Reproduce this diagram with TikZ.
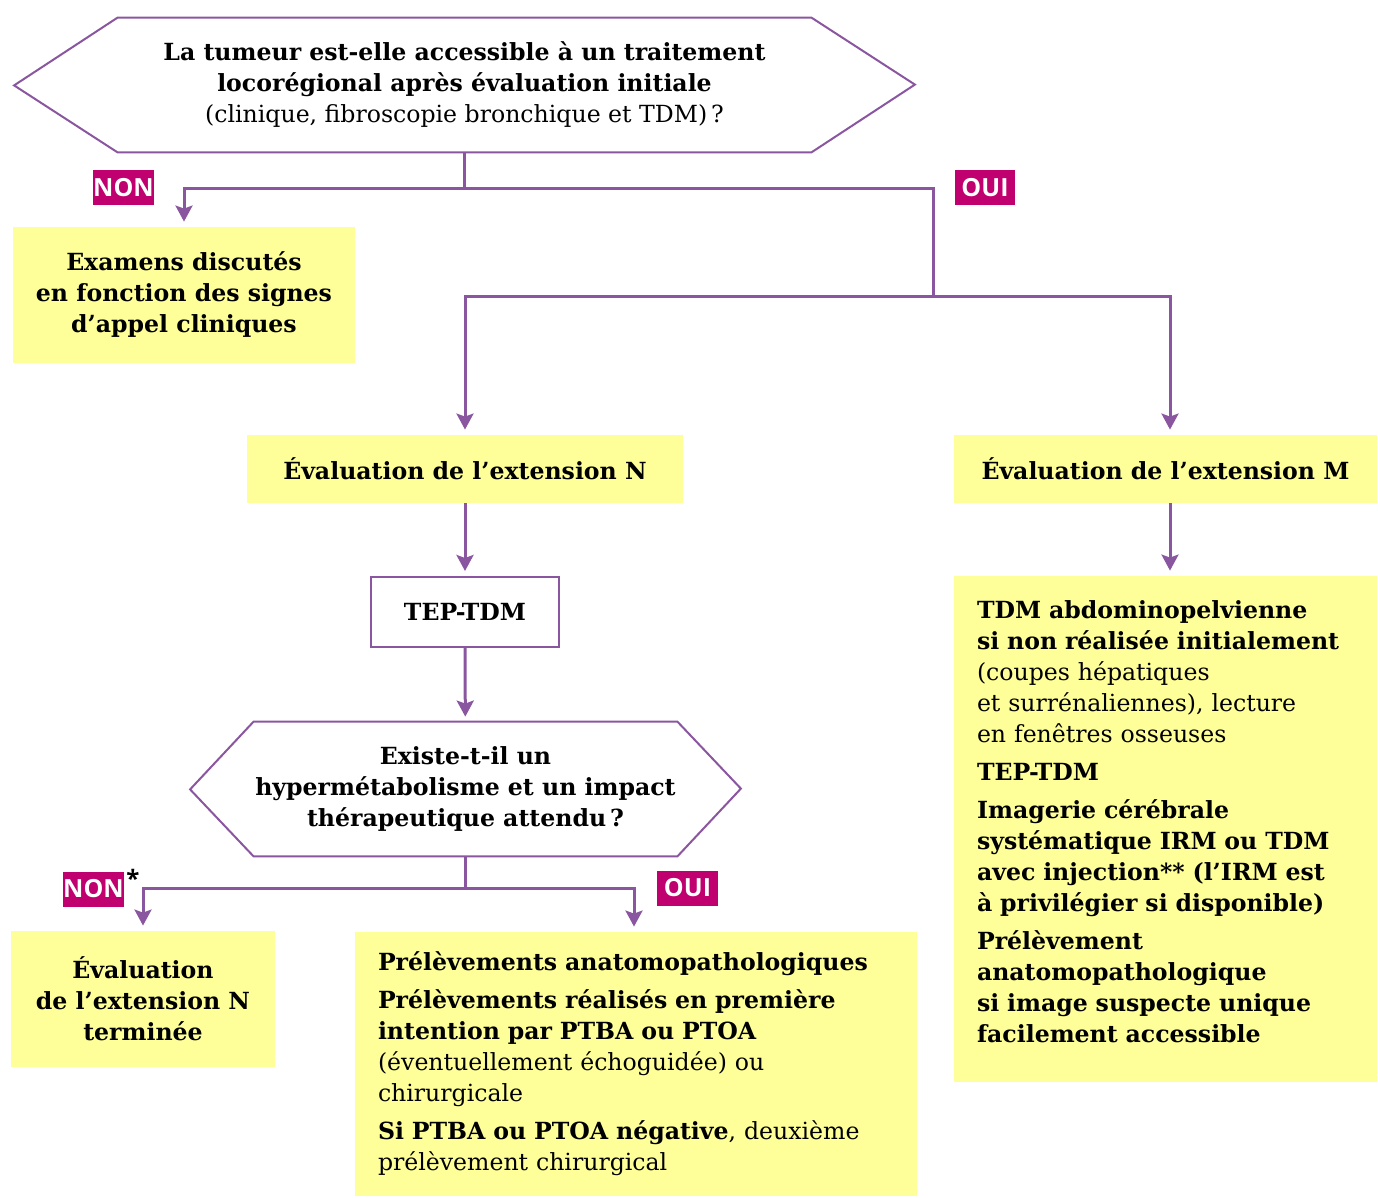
\documentclass[tikz,border=0pt]{standalone}
\usepackage{fontspec}
\setmainfont{DejaVu Serif}
\newfontfamily\labelfont{Open Sans}[BoldFont={* Bold}]
\usetikzlibrary{positioning,arrows.meta}

\definecolor{flowpurple}{HTML}{8A56A0}
\definecolor{noteyellow}{HTML}{FFFF99}
\definecolor{answermagenta}{HTML}{C0006F}
\newcommand\bodysize{\fontsize{11.8}{15.5}\selectfont}
\newcommand\drawhexagon[2]{%
  \draw[hexline] (#1.north west) -- (#1.north east) -- ++(#2,67)
    -- (#1.south east) -- (#1.south west) -- ++(-#2,-67) -- cycle;}

\tikzset{
  hexline/.style={draw=flowpurple, line width=1pt, line join=miter},
  question/.style={inner sep=0pt, align=center, font=\bodysize},
  yellowbox/.style={fill=noteyellow, inner sep=0pt, align=center, font=\bodysize\bfseries},
  listbox/.style={fill=noteyellow, inner xsep=11.5pt, inner ysep=0pt, align=left, font=\bodysize},
  tepbox/.style={draw=flowpurple, line width=1pt, fill=white, align=center, font=\bodysize\bfseries},
  answer/.style={fill=answermagenta, text=white, inner sep=0pt, minimum height=17.5pt,
    font=\labelfont\bfseries\fontsize{12.5}{13}\selectfont},
  flowline/.style={draw=flowpurple, line width=1.5pt},
  flowarrow/.style={flowline, -{Stealth[length=8pt,width=8.5pt,inset=1.5pt]}, shorten >=2.5pt},
}

\begin{document}
\begin{tikzpicture}[x=0.5pt,y=-0.5pt]
  \useasboundingbox (0,0) rectangle (1378,1198);

  % first question
  \node[question, minimum width=346.5pt, minimum height=67pt] (q1) at (464.5,85)
    {\textbf{La tumeur est-elle accessible à un traitement}\\
     \textbf{locorégional après évaluation initiale}\\
     (clinique, fibroscopie bronchique et TDM)\,?};
  \drawhexagon{q1}{103.5}

  \node[yellowbox, minimum width=171pt, minimum height=68pt] (examens) at (184,295)
    {Examens discutés\\en fonction des signes\\d’appel cliniques};
  \node[yellowbox, minimum width=218pt, minimum height=34pt] (evalN) at (465,469)
    {Évaluation de l’extension N};
  \node[yellowbox, minimum width=211.5pt, minimum height=34pt] (evalM) at (1165.5,469)
    {Évaluation de l’extension M};

  \node[answer, minimum width=30.5pt] (non1) at (123.5,187.5) {NON};
  \node[answer, minimum width=30pt] (oui1) at (985,187.5) {OUI};

  \coordinate (split1) at (464.5,189);
  \coordinate (split2) at (933,297);
  \draw[flowline] (q1.south) -- (split1);
  \draw[flowarrow] (split1) -| (examens.north);
  \draw[flowline] (split1) -| (split2);
  \draw[flowarrow] (split2) -| (evalN.north);
  \draw[flowarrow] (split2) -| ([xshift=2.25pt]evalM.north);

  % extension N
  \node[tepbox, minimum width=94pt, minimum height=35pt] (tep) at (465,612) {TEP-TDM};
  \node[question, font=\bodysize\bfseries, minimum width=211.5pt, minimum height=67pt] (q2) at (465.5,789)
    {Existe-t-il un\\hypermétabolisme et un impact\\thérapeutique attendu\,?};
  \drawhexagon{q2}{63.5}
  \draw[flowarrow] (evalN) -- (tep);
  \draw[flowarrow] (tep) -- (q2);

  \node[yellowbox, minimum width=132pt, minimum height=68pt] (termine) at (143,999)
    {Évaluation\\de l’extension N\\terminée};
  \node[listbox, text width=258pt, minimum height=132pt] (prelev) at (636,1064)
    {\textbf{Prélèvements anatomopathologiques}\\[3.5pt]
     \textbf{Prélèvements réalisés en première}\\
     \textbf{intention par PTBA ou PTOA}\\
     (éventuellement échoguidée) ou\\
     chirurgicale\\[3.5pt]
     \textbf{Si PTBA ou PTOA négative}, deuxième\\
     prélèvement chirurgical};

  \node[answer, minimum width=30.5pt] (non2) at (93.5,889) {NON};
  \node[font=\labelfont\bfseries\fontsize{12}{12}\selectfont, inner sep=0pt] (star) at (133,878) {*};
  \node[answer, minimum width=30.5pt] (oui2) at (687.5,888) {OUI};

  \coordinate (split3) at (465.5,888);
  \draw[flowline] (q2.south) -- (split3);
  \draw[flowarrow] (split3) -| (termine.north);
  \draw[flowarrow] (split3) -| ([xshift=-1pt]prelev.north);

  % extension M
  \node[listbox, text width=188.5pt, minimum height=253pt] (mdetail) at (1165.5,829)
    {\textbf{TDM abdominopelvienne}\\
     \textbf{si non réalisée initialement}\\
     (coupes hépatiques\\
     et surrénaliennes), lecture\\
     en fenêtres osseuses\\[3.5pt]
     \textbf{TEP-TDM}\\[3.5pt]
     \textbf{Imagerie cérébrale}\\
     \textbf{systématique IRM ou TDM}\\
     \textbf{avec injection** (l’IRM est}\\
     \textbf{à privilégier si disponible)}\\[3.5pt]
     \textbf{Prélèvement}\\
     \textbf{anatomopathologique}\\
     \textbf{si image suspecte unique}\\
     \textbf{facilement accessible}\\[-8pt]\mbox{}};
  \draw[flowarrow] ([xshift=2.25pt]evalM.south) -- ([xshift=2.25pt]mdetail.north);
\end{tikzpicture}
\end{document}
